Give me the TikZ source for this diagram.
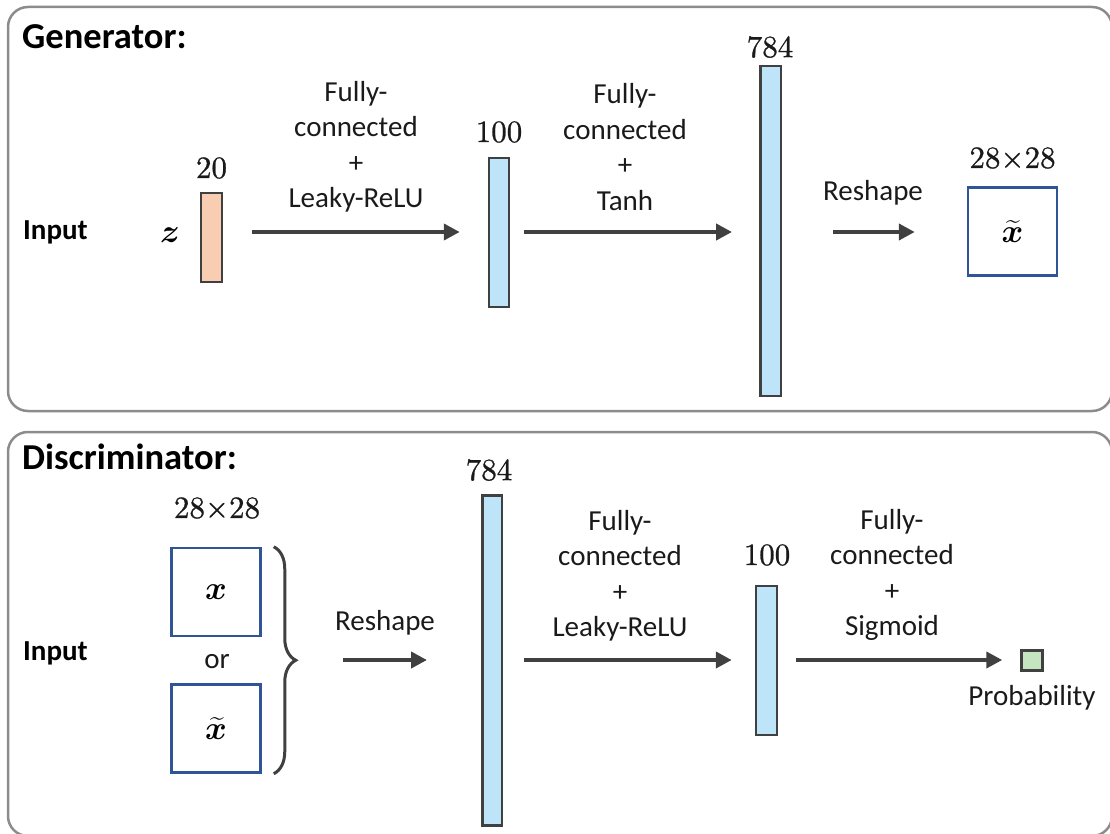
\RequirePackage{fix-cm}
\documentclass[tikz,border=0pt]{standalone}
\usepackage{amsmath}
\usepackage{bm}
\usepackage{fontspec}
\newfontfamily\calfont{Carlito}
\newfontfamily\numfont{lmroman10-regular}[Extension=.otf, FakeBold=0.8]
\usetikzlibrary{arrows.meta,decorations.pathreplacing}
\definecolor{panelgray}{HTML}{8C8C8C}
\definecolor{barline}{HTML}{404040}
\definecolor{arrowgray}{HTML}{404040}
\definecolor{barblue}{HTML}{BDE4F8}
\definecolor{barorange}{HTML}{F9CDB2}
\definecolor{probgreen}{HTML}{C5E4C0}
\definecolor{sqblue}{HTML}{2F5597}
\definecolor{txtcol}{HTML}{1A1A1A}
\begin{document}
\begin{tikzpicture}[x=1pt,y=-1pt,
  panel/.style={draw=panelgray, line width=2.5pt, rounded corners=20pt},
  title/.style={font=\calfont\bfseries\fontsize{36.5}{40}\selectfont, text=black, anchor=west, inner sep=0},
  inlab/.style={font=\calfont\bfseries\fontsize{29}{34}\selectfont, text=black, anchor=west, inner sep=0},
  txt/.style={font=\calfont\fontsize{29}{35.5}\selectfont, text=txtcol, align=center, inner sep=0},
  num/.style={font=\numfont\fontsize{31}{38}\selectfont, text=txtcol, inner sep=0},
  sym/.style={font=\fontsize{33}{38}\selectfont, text=black, inner sep=0},
  bar/.style={draw=barline, line width=2.5pt, fill=barblue, inner sep=0},
  sq/.style={draw=sqblue, line width=2.5pt, fill=white, inner sep=0, minimum width=89pt, minimum height=88pt, font=\fontsize{33}{38}\selectfont, text=black},
  arr/.style={draw=arrowgray, line width=4pt, -{Triangle[length=16pt,width=16pt]}}
]
\useasboundingbox (0,0) rectangle (1110,834);
% panels
\draw[panel] (8,7) rectangle (1112,411);
\draw[panel] (8,432) rectangle (1112,836);

% ---------------- Generator ----------------
\node[title] (gtitle) at (22,37) {Generator:};
\node[inlab] (ginput) at (23,232) {Input};
\node[sym] (zsym) at (170,235) {$\bm{z}$};
\node[bar, fill=barorange, minimum width=21pt, minimum height=89pt] (gz) at (211.5,237.5) {};
\node[num] (gz20) at (211.5,168) {20};
\node[bar, minimum width=20pt, minimum height=149pt] (gb1) at (499,232.5) {};
\node[num] (gb1n) at (499,132) {100};
\node[bar, minimum width=20.5pt, minimum height=330pt] (gb2) at (770.5,231) {};
\node[num] (gb2n) at (770,47) {784};
\node[sq] (gxt) at (1012.5,231.5) {$\widetilde{\bm{x}}$};
\node[num] (gxtn) at (1012.5,158) {28×28};

\coordinate (grow) at (0,232);
\draw[arr, shorten <=29pt, shorten >=28pt] (gz.east |- grow) -- (gb1.west |- grow);
\draw[arr, shorten <=14pt, shorten >=27pt] (gb1.east |- grow) -- (gb2.west |- grow);
\draw[arr, shorten <=51pt, shorten >=52pt] (gb2.east |- grow) -- (gxt.west |- grow);

\node[txt] (gl1) at (356,147) {Fully-\\connected\\+\\Leaky-ReLU};
\node[txt] (gl2) at (625,147) {Fully-\\connected\\+\\Tanh};
\node[txt] (gl3) at (873,193) {Reshape};

% ---------------- Discriminator ----------------
\node[title] (dtitle) at (22,457) {Discriminator:};
\node[inlab] (dinput) at (23,653) {Input};
\node[num] (dxn) at (217,508) {28×28};
\node[sq] (dx) at (216,592) {$\bm{x}$};
\node[txt] (dor) at (217,662) {or};
\node[sq] (dxt) at (216,728.5) {$\widetilde{\bm{x}}$};
\draw[draw=barline, line width=3pt, decorate, decoration={brace, amplitude=22pt}]
  ([xshift=12pt]dx.north east) -- ([xshift=12pt]dxt.south east);
\coordinate (brtip) at (298,660);

\node[bar, minimum width=19.5pt, minimum height=330pt] (db1) at (492,660.5) {};
\node[num] (db1n) at (489,470) {784};
\node[bar, minimum width=21pt, minimum height=149pt] (db2) at (766.5,660.5) {};
\node[num] (db2n) at (767,555) {100};
\node[bar, fill=probgreen, minimum width=21pt, minimum height=20pt] (prob) at (1032,660.5) {};
\node[txt] (probl) at (1032,698) {Probability};

\coordinate (drow) at (0,660);
\draw[arr, shorten <=45pt, shorten >=54pt] (brtip) -- (db1.west |- drow);
\draw[arr, shorten <=21pt, shorten >=23pt] (db1.east |- drow) -- (db2.west |- drow);
\draw[arr, shorten <=18pt, shorten >=18pt] (db2.east |- drow) -- (prob.west |- drow);

\node[txt] (dl0) at (385,623) {Reshape};
\node[txt] (dl1) at (620,576) {Fully-\\connected\\+\\Leaky-ReLU};
\node[txt] (dl2) at (892,575) {Fully-\\connected\\+\\Sigmoid};
\end{tikzpicture}
\end{document}
